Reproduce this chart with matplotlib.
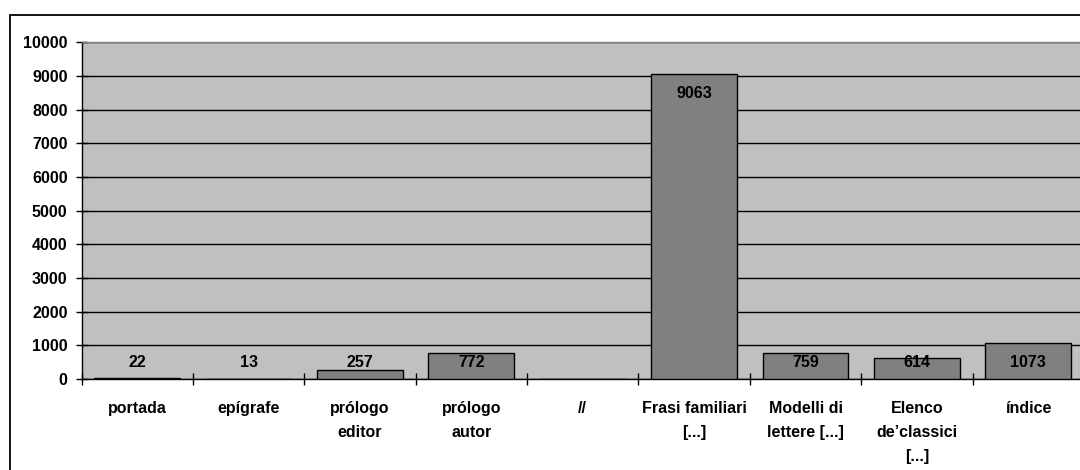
import numpy as np
import matplotlib
matplotlib.use('Agg')
import matplotlib.pyplot as plt
from matplotlib.patches import Rectangle

plt.rcParams['font.family'] = ['Liberation Sans', 'DejaVu Sans']
plt.rcParams['font.weight'] = 'bold'

categories = ['portada', 'epígrafe', 'prólogo\neditor', 'prólogo\nautor', '//',
              'Frasi familiari\n[...]', 'Modelli di\nlettere [...]',
              'Elenco\nde\u2019classici\n[...]', 'índice']
values = np.array([22, 13, 257, 772, np.nan, 9063, 759, 614, 1073])
yticks = np.arange(0, 10001, 1000)

fig = plt.figure(figsize=(10.8, 4.7), dpi=100)

# outer chart border (right and bottom edges fall outside the picture)
W, H = 1080, 470
fig.patches.append(Rectangle((10 / W, -0.05), 1.2, (H - 15) / H + 0.05,
                             transform=fig.transFigure, fill=False,
                             edgecolor='black', linewidth=1.3, zorder=0))

ax = fig.add_axes([81.5 / W, (H - 379) / H, (1084 - 81.5) / W, (379 - 42.3) / H])
ax.set_facecolor('#C0C0C0')

x = np.arange(len(categories))
ax.bar(x, np.nan_to_num(values), width=0.77, color='#808080',
       edgecolor='black', linewidth=1.0, zorder=3)

# value labels inside the bar end, kept above the axis for short bars
for xi, v in zip(x, values):
    if np.isnan(v):
        continue
    ax.text(xi, max(v - 570, 480), f'{int(v)}', ha='center', va='center',
            fontsize=11.5, fontweight='bold', zorder=5)

ax.set_ylim(0, 10000)
ax.set_xlim(-0.5, len(categories) - 0.5)
ax.set_yticks(yticks)
ax.set_yticklabels([str(t) for t in yticks], fontsize=11.5, fontweight='bold')
ax.yaxis.grid(True, color='black', linewidth=1.0, zorder=1)
ax.set_axisbelow(True)

ax.set_xticks(x)
ax.set_xticklabels(categories, fontsize=11.5, fontweight='bold', linespacing=1.75)
ax.set_xticks(np.arange(-0.5, len(categories)), minor=True)
ax.tick_params(axis='x', which='major', length=0, pad=16)
ax.tick_params(axis='x', which='minor', direction='inout', length=9, width=1.0)
ax.tick_params(axis='y', direction='inout', length=8, width=1.0, pad=6)

for s in ['top', 'right']:
    ax.spines[s].set_color('#808080')
    ax.spines[s].set_linewidth(1.0)
for s in ['left', 'bottom']:
    ax.spines[s].set_color('black')
    ax.spines[s].set_linewidth(1.0)

fig.savefig('out.png', dpi=100)
